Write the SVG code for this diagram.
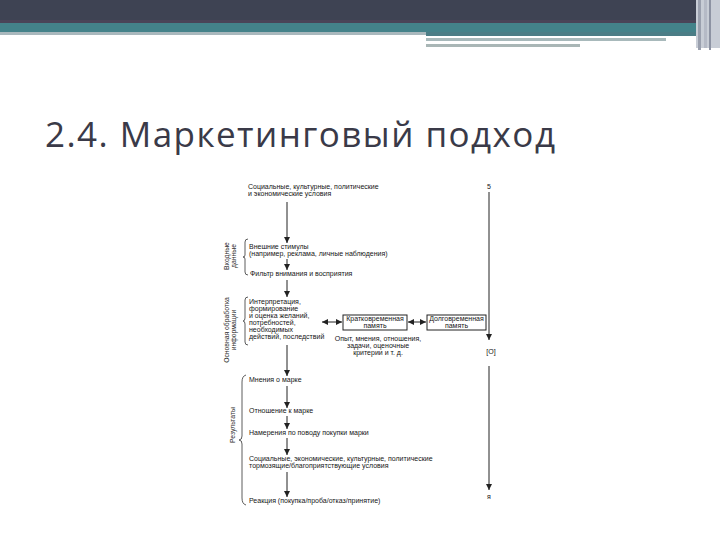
<svg xmlns="http://www.w3.org/2000/svg" width="720" height="540" viewBox="0 0 720 540">
<defs>
<style>
.t{font-family:"Liberation Sans",Arial,sans-serif;font-size:7px;fill:#151515}
.v{font-family:"Liberation Sans",Arial,sans-serif;font-size:6.8px;fill:#2a2a2a}
.ln{stroke:#222;stroke-width:1;fill:none}
.box{stroke:#222;stroke-width:1;fill:#fff}
.br{stroke:#333;stroke-width:0.8;fill:none}
</style>
<marker id="ah" viewBox="0 0 10 10" refX="10" refY="5" markerWidth="6" markerHeight="6" orient="auto-start-reverse" markerUnits="userSpaceOnUse">
<path d="M0,0 L10,5 L0,10 z" fill="#222"/>
</marker>
</defs>
<rect width="720" height="540" fill="#fff"/>
<g id="header">
<rect x="0" y="0" width="720" height="23" fill="#3e4353"/>
<rect x="0" y="20" width="720" height="3" fill="#4a4458"/>
<rect x="0" y="23" width="720" height="9" fill="#44828a"/>
<rect x="0" y="32" width="426" height="3" fill="#a9b8bd"/>
<rect x="426" y="32" width="270" height="4" fill="#4b7d86"/>
<rect x="426" y="38" width="240" height="3" fill="#a8b9bb"/>
<rect x="426" y="44" width="154" height="3" fill="#a9b6b6"/>
<rect x="696" y="0" width="24" height="48" fill="#c8cdd6"/>
<rect x="698" y="0" width="3" height="50" fill="#9aa0ae"/>
<rect x="704" y="0" width="3" height="48" fill="#b5bac6"/>
<rect x="709" y="0" width="2" height="50" fill="#8d93a3"/>
</g>
<text id="title" x="45" y="147" font-family="Open Sans, DejaVu Sans, sans-serif" font-size="35" fill="#3a3a48" textLength="510" lengthAdjust="spacing">2.4. Маркетинговый подход</text>
<g id="labels-left">
<text class="v" transform="translate(229,256) rotate(-90)" text-anchor="middle">Входные</text>
<text class="v" transform="translate(236,256) rotate(-90)" text-anchor="middle">данные</text>
<text class="v" transform="translate(229,330) rotate(-90)" text-anchor="middle">Основная обработка</text>
<text class="v" transform="translate(236,330) rotate(-90)" text-anchor="middle">информации</text>
<text class="v" transform="translate(235,425) rotate(-90)" text-anchor="middle">Результаты</text>
<path class="br" d="M248,239 Q245,239 245,242 L245,255 Q245,257 243,257 Q245,257 245,259 L245,272 Q245,275 248,275"/>
<path class="br" d="M248,297 Q245,297 245,300 L245,318 Q245,321 243,321 Q245,321 245,324 L245,342 Q245,345 248,345"/>
<path class="br" d="M246,375 Q242,376 242,382 L242,436 Q242,440 239,440 Q242,440 242,444 L242,498 Q242,504 246,505"/>
</g>
<g id="n1"><text class="t" x="248" y="189">Социальные, культурные, политические</text><text class="t" x="248" y="196">и экономические условия</text></g>
<g id="n2"><text class="t" x="249" y="249">Внешние стимулы</text><text class="t" x="249" y="256">(например, реклама, личные наблюдения)</text></g>
<g id="n3"><text class="t" x="250" y="276">Фильтр внимания и восприятия</text></g>
<g id="n4"><text class="t" x="249" y="304">Интерпретация,</text><text class="t" x="249" y="311">формирование</text><text class="t" x="249" y="318">и оценка желаний,</text><text class="t" x="249" y="325">потребностей,</text><text class="t" x="249" y="332">необходимых</text><text class="t" x="249" y="339">действий, последствий</text></g>
<g id="n5"><rect class="box" x="343" y="315" width="64" height="15"/><text class="t" x="375" y="321" text-anchor="middle">Кратковременная</text><text class="t" x="375" y="328" text-anchor="middle">память</text></g>
<g id="n6"><rect class="box" x="427" y="315" width="59" height="15"/><text class="t" x="456.5" y="321" text-anchor="middle">Долговременная</text><text class="t" x="456.5" y="328" text-anchor="middle">память</text></g>
<g id="n7"><text class="t" x="378" y="341" text-anchor="middle">Опыт, мнения, отношения,</text><text class="t" x="378" y="348" text-anchor="middle">задачи, оценочные</text><text class="t" x="378" y="355" text-anchor="middle">критерии и т. д.</text></g>
<g id="n8"><text class="t" x="249" y="382">Мнения о марке</text></g>
<g id="n9"><text class="t" x="249" y="413">Отношение к марке</text></g>
<g id="n10"><text class="t" x="249" y="435">Намерения по поводу покупки марки</text></g>
<g id="n11"><text class="t" x="249" y="461">Социальные, экономические, культурные, политические</text><text class="t" x="249" y="468">тормозящие/благоприятствующие условия</text></g>
<g id="n12"><text class="t" x="249" y="503">Реакция (покупка/проба/отказ/принятие)</text></g>
<g id="side"><text class="t" x="489" y="189" text-anchor="middle">5</text><text class="t" x="491" y="354" text-anchor="middle">[O]</text><text class="t" x="489" y="499" text-anchor="middle">я</text></g>
<g id="connectors">
<line class="ln" x1="287" y1="202" x2="287" y2="243" marker-end="url(#ah)"/>
<line class="ln" x1="287" y1="259" x2="287" y2="270" marker-end="url(#ah)"/>
<line class="ln" x1="287" y1="280" x2="287" y2="297" marker-end="url(#ah)"/>
<line class="ln" x1="287" y1="345" x2="287" y2="376" marker-end="url(#ah)"/>
<line class="ln" x1="287" y1="386" x2="287" y2="408" marker-end="url(#ah)"/>
<line class="ln" x1="287" y1="416" x2="287" y2="429" marker-end="url(#ah)"/>
<line class="ln" x1="287" y1="438" x2="287" y2="455" marker-end="url(#ah)"/>
<line class="ln" x1="287" y1="472" x2="287" y2="497" marker-end="url(#ah)"/>
<line class="ln" x1="322" y1="322" x2="342" y2="322" marker-start="url(#ah)" marker-end="url(#ah)"/>
<line class="ln" x1="408" y1="322" x2="426" y2="322" marker-start="url(#ah)" marker-end="url(#ah)"/>
<line class="ln" x1="489" y1="192" x2="489" y2="340" marker-end="url(#ah)"/>
<line class="ln" x1="489" y1="366" x2="489" y2="490" marker-end="url(#ah)"/>
</g>
</svg>
